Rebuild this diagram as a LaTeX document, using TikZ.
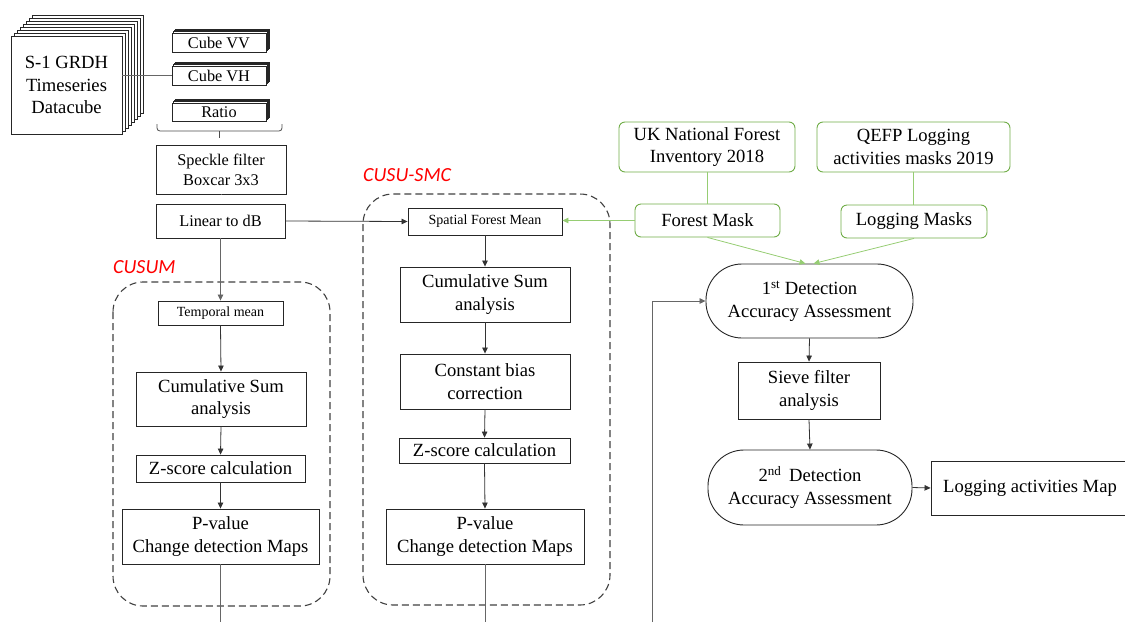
\documentclass[tikz,border=0pt]{standalone}
\usepackage{fontspec}
\setmainfont{LiberationSerif}[Extension=.ttf,UprightFont=*-Regular,BoldFont=*-Bold,ItalicFont=*-Italic,BoldItalicFont=*-BoldItalic]
\newfontfamily\labfont{Carlito}
\usetikzlibrary{arrows.meta}
\definecolor{gbord}{RGB}{112,173,71}
\definecolor{gline}{RGB}{150,205,115}
\definecolor{lred}{RGB}{255,0,0}
\newcommand\fbig{\fontsize{18.6}{22.5}\selectfont}
\newcommand\fmid{\fontsize{16.3}{20}\selectfont}
\newcommand\fsmall{\fontsize{14}{16}\selectfont}
\begin{document}
\begin{tikzpicture}[x=1pt,y=-1pt,
  box/.style={draw=black!85,line width=0.9pt,fill=white,inner sep=0pt,align=center,font=\fbig},
  midbox/.style={box,font=\fmid},
  smallbox/.style={box,font=\fsmall},
  gbox/.style={draw=gbord,line width=0.9pt,fill=white,rounded corners=6pt,inner sep=0pt,align=center,font=\fbig},
  stad/.style={box,rounded corners=36pt},
  sz/.style 2 args={minimum width=#1pt,minimum height=#2pt},
  arr/.style={-{Triangle[length=6pt,width=5.5pt]},draw=black!80,line width=0.8pt},
  conn/.style={draw=black!60,line width=0.8pt},
  garr/.style={-{Triangle[length=6pt,width=5.5pt]},draw=gline,line width=0.8pt},
  gconn/.style={draw=gline,line width=0.8pt},
  dbox/.style={draw=black!75,dash pattern=on 7pt off 4pt,line width=1.1pt,rounded corners=30pt},
  lbl/.style={text=lred,font=\labfont\itshape\fontsize{20}{24}\selectfont,inner sep=0pt},
  layer/.style={draw=black!85,line width=0.8pt,fill=white}
]
\useasboundingbox (0,0) rectangle (1125,622);

% ---- datacube stack
\foreach \k in {7,6,...,1}{
  \draw[layer] ({11+3*\k},{36-3*\k}) rectangle ({122+3*\k},{134-3*\k});
}
\node[box,sz={111}{98}] (dc) at (66.5,85) {S-1 GRDH\\Timeseries\\Datacube};

% ---- cubes
\foreach \yc/\nm/\txt/\hh in {42.5/vv/Cube VV/19, 75.5/vh/Cube VH/19, 112/ra/Ratio/18}{
  \foreach \k in {3,2,1}{
    \draw[layer] ({172+1.2*\k},{\yc-\hh/2-1.3*\k}) rectangle ({266+1.2*\k},{\yc+\hh/2-1.3*\k});
  }
  \node[midbox,sz={94}{\hh}] (\nm) at (219,\yc) {\txt};
}
\draw[conn] (vh.west) -- (vh.west -| dc.east);

% ---- brace
\coordinate (brl) at (157,124);
\coordinate (brr) at (282,124);
\coordinate (brm) at (219.5,131);
\draw[conn,draw=black!70,rounded corners=3pt] (brl) -- (157,131) -- (282,131) -- (brr);
\draw[conn,draw=black!70] (brm) -- (219.5,138);

% ---- main chain
\node[midbox,sz={130}{49}] (sp) at (221,169.5) {Speckle filter\\Boxcar 3x3};
\node[midbox,sz={129}{34}] (ldb) at (220.5,221) {Linear to dB};
\draw[conn] (sp.south) -- (ldb.south |- sp.south);

% ---- CUSUM
\draw[dbox] (113,282) rectangle (330,606);
\node[lbl,anchor=west] (lcusum) at (113,267) {CUSUM};
\node[smallbox,sz={125}{24}] (tm) at (220.5,313) {Temporal mean};
\node[box,sz={170}{54}] (cs1) at (221,399) {Cumulative Sum\\analysis};
\node[box,sz={169}{27}] (z1) at (220.5,468.5) {Z-score calculation};
\node[box,sz={197}{55}] (p1) at (220.5,536.5) {P-value\\Change detection Maps};
\coordinate (p1e) at (220.5,622);

% ---- CUSU-SMC
\draw[dbox] (363,194) rectangle (610,605);
\node[lbl,anchor=west] (lsmc) at (363,175) {CUSU-SMC};
\node[smallbox,sz={154}{27}] (sfm) at (485,221.5) {Spatial Forest Mean};
\node[box,sz={170}{55}] (cs2) at (485,294.5) {Cumulative Sum\\analysis};
\node[box,sz={170}{55}] (cb) at (485,381.5) {Constant bias\\correction};
\node[box,sz={171}{25}] (z2) at (484.5,450.5) {Z-score calculation};
\node[box,sz={198}{55}] (p2) at (485,536.5) {P-value\\Change detection Maps};
\coordinate (p2e) at (485,622);

% ---- green inputs
\node[gbox,sz={176}{50}] (uk) at (707,147) {UK National Forest\\Inventory 2018};
\node[gbox,sz={193}{50}] (qe) at (913.5,147) {QEFP Logging\\activities masks 2019};
\node[gbox,sz={145}{33}] (fm) at (707.5,220.5) {Forest Mask};
\node[gbox,sz={146}{33}] (lm) at (914,221.5) {Logging Masks};

% ---- accuracy chain
\node[stad,sz={207}{74}] (d1) at (809.5,301) {1\textsuperscript{st} Detection\\Accuracy Assessment};
\node[box,sz={142}{57}] (sv) at (809,390.5) {Sieve filter\\analysis};
\node[stad,sz={204}{75}] (d2) at (810,487.5) {2\textsuperscript{nd}\, Detection\\Accuracy Assessment};
\node[box,sz={198}{54}] (map) at (1030,488) {Logging activities Map};
\coordinate (fb) at (652,622);

% ---- connectors
\draw[arr] (ldb.east) -- (sfm.west);
\draw[arr,draw=black!60] (ldb.south) -- (tm.north);
\draw[arr] (tm.south) -- (cs1.north);
\draw[arr] (cs1.south) -- (z1.north);
\draw[arr] (z1.south) -- (p1.north);
\draw[conn] (p1.south) -- (p1e);
\draw[arr] (sfm.south) -- (cs2.north);
\draw[arr] (cs2.south) -- (cb.north);
\draw[arr] (cb.south) -- (z2.north);
\draw[arr] (z2.south) -- (p2.north);
\draw[conn] (p2.south) -- (p2e);

\draw[gconn] (uk.south) -- (fm.north -| uk.south);
\draw[gconn] (qe.south) -- (lm.north -| qe.south);
\draw[garr] (fm.west) -- (fm.west -| sfm.east);
\draw[garr] (fm.south) -- ([xshift=-4pt]d1.north);
\draw[garr] (lm.south) -- ([xshift=4pt]d1.north);

\draw[arr,draw=black!60] (fb) |- (d1.west);
\draw[arr] (d1.south) -- (sv.north);
\draw[arr] (sv.south) -- (d2.north);
\draw[arr] (d2.east) -- (map.west);
\end{tikzpicture}
\end{document}
